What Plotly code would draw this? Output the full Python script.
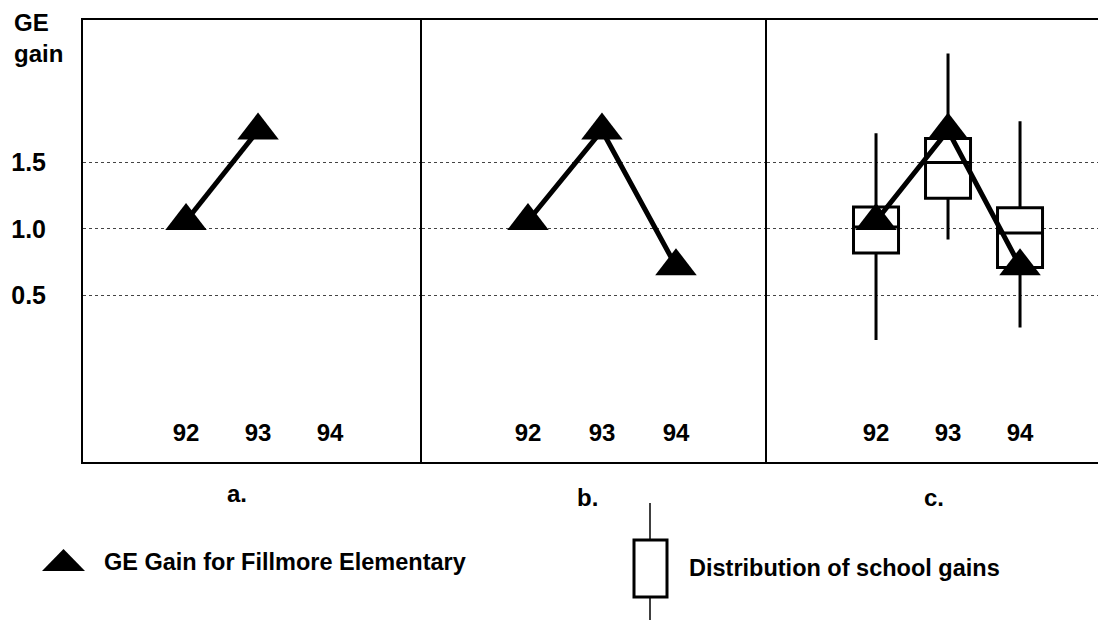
'''
    Three-panel chart: GE gain for Fillmore Elementary, compared with the
    distribution of school gains.
'''
import plotly.graph_objects as go
from plotly.subplots import make_subplots

# data
years = [92, 93, 94]
year_labels = ['92', '93', '94']
fillmore_gain = [1.06, 1.74, 0.72]

box_low = [0.165, 0.92, 0.26]
box_q1 = [0.82, 1.23, 0.71]
box_median = [1.015, 1.50, 0.97]
box_q3 = [1.165, 1.68, 1.16]
box_high = [1.72, 2.32, 1.81]

gain_ticks = [0.5, 1.0, 1.5]
gain_tick_labels = ['0.5', '1.0', '1.5']
panel_names = ['a.', 'b.', 'c.']

FONT = 'Liberation Sans, Arial, sans-serif'

# the page puts an 8px body margin round the figure
PAGE_W, PAGE_H, OFF = 1106, 620, 8
# plot area in page pixels (left, top, right, bottom)
LEFT, TOP, RIGHT, BOTTOM = 83, 20, 1106, 462


def px_x(px):
    return (px - LEFT) / (RIGHT - LEFT)


def px_y(py):
    return (BOTTOM - py) / (BOTTOM - TOP)


def get_figure():
    '''
        Returns:
            The figure to be displayed
    '''
    fig = make_subplots(rows=1, cols=3, horizontal_spacing=0,
                        column_widths=[339, 345, 339])

    marker = dict(symbol='triangle-up', size=36, color='black')

    # a. only the first two years
    fig.add_trace(go.Scatter(
        x=years[:2], y=fillmore_gain[:2], mode='lines+markers',
        line=dict(color='black', width=5), marker=marker,
    ), row=1, col=1)

    # b. all three years
    fig.add_trace(go.Scatter(
        x=years, y=fillmore_gain, mode='lines+markers',
        line=dict(color='black', width=5), marker=marker,
    ), row=1, col=2)

    # c. boxes plus the school line
    fig.add_trace(go.Box(
        x=years, q1=box_q1, median=box_median, q3=box_q3,
        lowerfence=box_low, upperfence=box_high,
        width=0.625, whiskerwidth=0, boxpoints=False,
        line=dict(color='black', width=3), fillcolor='white',
    ), row=1, col=3)
    fig.add_trace(go.Scatter(
        x=years, y=fillmore_gain, mode='lines+markers',
        line=dict(color='black', width=5), marker=marker,
    ), row=1, col=3)

    x_ranges = [[90.569, 95.277], [90.568, 95.230], [90.486, 95.194]]
    for i, rng in enumerate(x_ranges):
        fig.update_xaxes(
            range=rng, tickvals=years, ticktext=year_labels,
            ticks='', ticklabelposition='inside', ticklabelstandoff=18,
            tickfont=dict(size=24, color='black'),
            showgrid=False, zeroline=False,
            showline=True, linecolor='black', linewidth=2, mirror=True,
            row=1, col=i + 1,
        )
        fig.update_yaxes(
            range=[-0.752, 2.571], tickvals=gain_ticks, ticktext=gain_tick_labels,
            ticks='', showticklabels=(i == 0), ticklabelstandoff=30,
            tickfont=dict(size=25, color='black'),
            showgrid=True, gridcolor='#444', gridwidth=1, griddash='dot',
            zeroline=False,
            showline=True, linecolor='black', linewidth=2, mirror=False,
            row=1, col=i + 1,
        )

    annotations = [
        dict(text='GE<br>gain', x=px_x(12), y=px_y(7), xanchor='left', yanchor='top',
             align='left', font=dict(size=24)),
        dict(text=panel_names[0], x=px_x(237), y=px_y(493)),
        dict(text=panel_names[1], x=px_x(587), y=px_y(497)),
        dict(text=panel_names[2], x=px_x(934), y=px_y(497)),
        dict(text='GE Gain for Fillmore Elementary', x=px_x(102), y=px_y(562),
             xanchor='left', font=dict(size=23.5)),
        dict(text='Distribution of school gains', x=px_x(687), y=px_y(568),
             xanchor='left', font=dict(size=23.5)),
    ]
    for a in annotations:
        a.update(xref='paper', yref='paper', showarrow=False)
        a.setdefault('xanchor', 'center')
        a.setdefault('yanchor', 'middle')

    # legend glyphs
    tri = 'M {} {} L {} {} L {} {} Z'.format(
        px_x(63.5), px_y(549), px_x(42), px_y(571), px_x(85), px_y(571))
    shapes = [
        dict(type='path', path=tri, fillcolor='black', line=dict(width=0)),
        dict(type='line', x0=px_x(650), x1=px_x(650), y0=px_y(503), y1=px_y(540),
             line=dict(color='black', width=1.5)),
        dict(type='line', x0=px_x(650), x1=px_x(650), y0=px_y(597), y1=px_y(630),
             line=dict(color='black', width=1.5)),
        dict(type='rect', x0=px_x(634), x1=px_x(667), y0=px_y(540), y1=px_y(597),
             line=dict(color='black', width=3), fillcolor='white'),
    ]
    for s in shapes:
        s.update(xref='paper', yref='paper')

    fig.update_layout(
        width=PAGE_W - OFF, height=PAGE_H - OFF,
        margin=dict(l=LEFT - OFF, r=PAGE_W - RIGHT, t=TOP - OFF, b=PAGE_H - BOTTOM),
        paper_bgcolor='white', plot_bgcolor='white',
        font=dict(family=FONT, size=24, color='black', weight='bold'),
        showlegend=False,
        annotations=annotations,
        shapes=shapes,
    )
    return fig


fig = get_figure()
fig.write_html('out.html')
